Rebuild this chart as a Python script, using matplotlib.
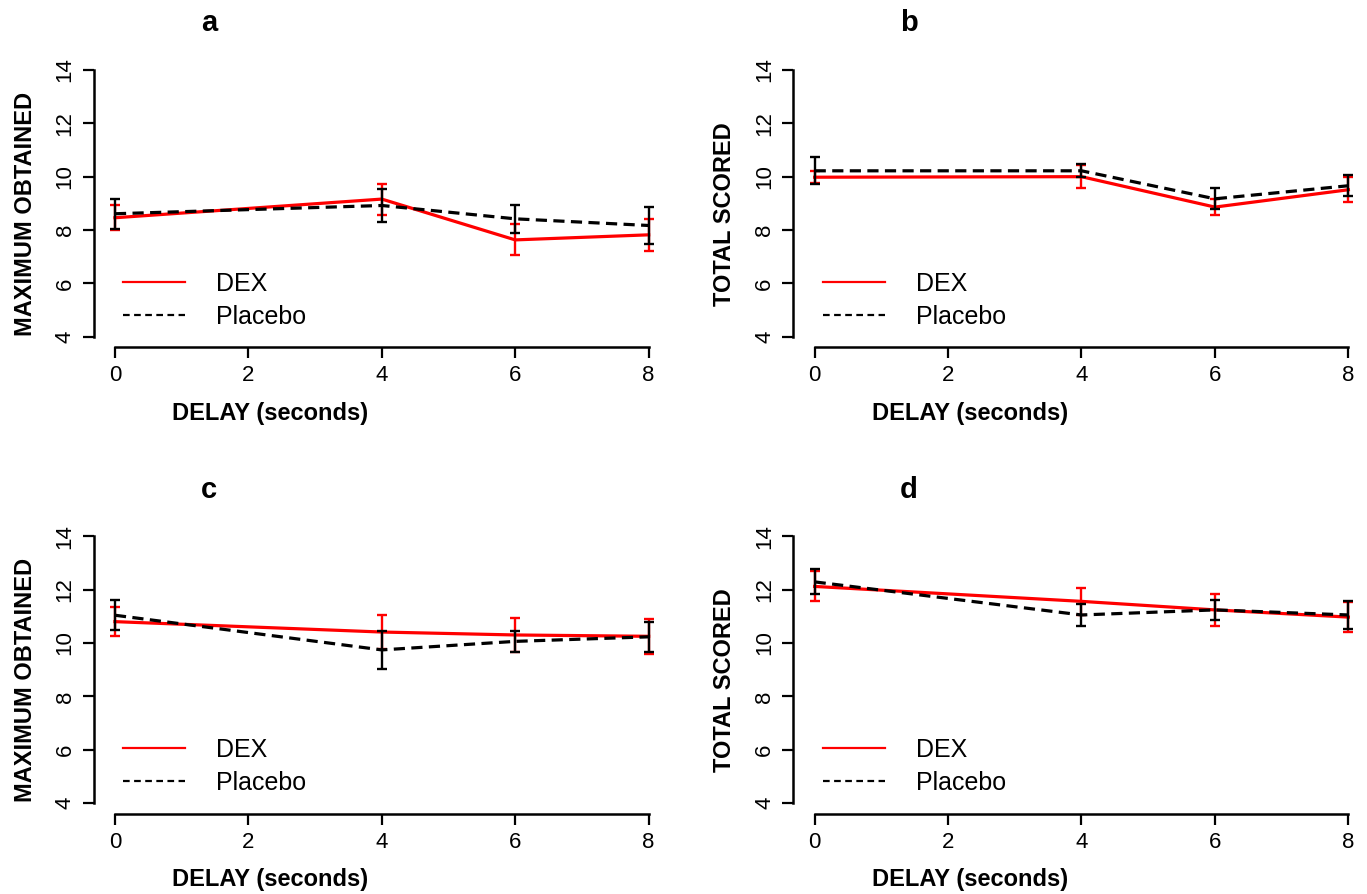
import numpy as np
import matplotlib
matplotlib.use("Agg")
import matplotlib.pyplot as plt
from matplotlib.lines import Line2D

plt.rcParams['font.family'] = ['Liberation Sans', 'DejaVu Sans']
plt.rcParams['xtick.labelsize'] = 16
plt.rcParams['ytick.labelsize'] = 16

# delay in seconds
delay = [0, 4, 6, 8]

# panel a - maximum obtained
dex_a = [8.46, 9.16, 7.63, 7.82]
dex_a_err = [0.47, 0.58, 0.58, 0.61]
plc_a = [8.61, 8.92, 8.42, 8.17]
plc_a_err = [0.56, 0.62, 0.53, 0.68]

# panel b - total scored
dex_b = [9.98, 10.0, 8.86, 9.51]
dex_b_err = [0.23, 0.44, 0.30, 0.47]
plc_b = [10.22, 10.22, 9.17, 9.66]
plc_b_err = [0.51, 0.25, 0.39, 0.40]

# panel c - maximum obtained
dex_c = [10.8, 10.41, 10.3, 10.25]
dex_c_err = [0.53, 0.64, 0.63, 0.65]
plc_c = [11.04, 9.74, 10.06, 10.23]
plc_c_err = [0.56, 0.70, 0.40, 0.57]

# panel d - total scored
dex_d = [12.12, 11.56, 11.24, 10.97]
dex_d_err = [0.56, 0.50, 0.60, 0.57]
plc_d = [12.29, 11.05, 11.24, 11.05]
plc_d_err = [0.47, 0.41, 0.38, 0.51]

panel_letters = ['a', 'b', 'c', 'd']
y_titles = ['MAXIMUM OBTAINED', 'TOTAL SCORED', 'MAXIMUM OBTAINED', 'TOTAL SCORED']
x_ticks = [0, 2, 4, 6, 8]
y_ticks = [4, 6, 8, 10, 12, 14]

W, H = 1367, 894
fig = plt.figure(figsize=(W / 100, H / 100), dpi=100)

# axes boxes in pixels (left, top) - R style plot regions
ax_w, ax_h = 576.4, 288.1
boxes = [(93.6, 59.3), (793.3, 59.3), (93.6, 525.6), (793.3, 525.6)]


def draw_panel(ax, letter, ylab, dex, dex_err, plc, plc_err):
    ax.errorbar(delay, dex, yerr=dex_err, fmt='none', ecolor='red',
                elinewidth=1.7, capsize=3.8, capthick=1.7)
    ax.plot(delay, dex, color='red', lw=2.3)
    ax.errorbar(delay, plc, yerr=plc_err, fmt='none', ecolor='black',
                elinewidth=1.7, capsize=3.8, capthick=1.7)
    ax.plot(delay, plc, color='black', lw=2.3, dashes=(3.5, 2))

    ax.set_xlim(-0.32, 8.32)
    ax.set_ylim(3.6, 14.4)
    ax.set_xticks(x_ticks, labels=[str(v) for v in x_ticks], fontsize=16)
    ax.set_yticks(y_ticks, labels=[str(v) for v in y_ticks], fontsize=16,
                  rotation=90, va='center')
    for s in ['top', 'right']:
        ax.spines[s].set_visible(False)
    ax.spines['left'].set_bounds(4, 14)
    ax.spines['bottom'].set_bounds(0, 8)
    for s in ['left', 'bottom']:
        ax.spines[s].set_linewidth(1.8)
    ax.tick_params(length=8, width=1.6, pad=5, labelsize=16)

    ax.set_xlabel('DELAY (seconds)', fontsize=17, fontweight='bold')
    ax.xaxis.label.set_va('center')
    ax.xaxis.set_label_coords(0.306, -0.228)
    ax.set_ylabel(ylab, fontsize=17, fontweight='bold')
    ax.yaxis.label.set_va('center')
    ax.yaxis.set_label_coords(-0.119, 0.463)

    ax.text(0.2, 1.125, letter, transform=ax.transAxes, ha='center',
            va='center', fontsize=21, fontweight='bold')

    handles = [Line2D([], [], color='red', lw=1.6),
               Line2D([], [], color='black', lw=1.6, dashes=(3, 2))]
    ax.legend(handles, ['DEX', 'Placebo'], loc='center left',
              bbox_to_anchor=(0.051, 0.163), frameon=False, fontsize=18,
              handlelength=2.48, handletextpad=1.24, labelspacing=0.36,
              borderpad=0, borderaxespad=0)


series = [(dex_a, dex_a_err, plc_a, plc_a_err),
          (dex_b, dex_b_err, plc_b, plc_b_err),
          (dex_c, dex_c_err, plc_c, plc_c_err),
          (dex_d, dex_d_err, plc_d, plc_d_err)]

for i in range(4):
    left, top = boxes[i]
    ax = fig.add_axes([left / W, (H - top - ax_h) / H, ax_w / W, ax_h / H])
    d, de, p, pe = series[i]
    draw_panel(ax, panel_letters[i], y_titles[i], d, de, p, pe)

fig.savefig('out.png', dpi=100)
